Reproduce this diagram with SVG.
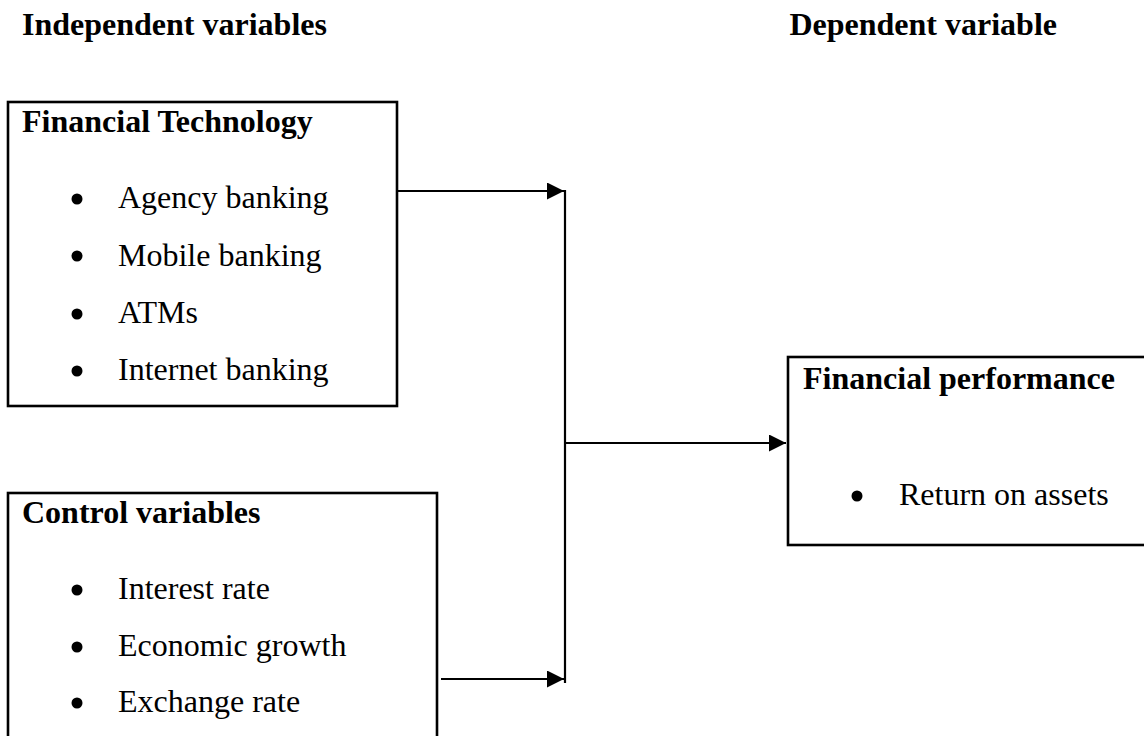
<svg xmlns="http://www.w3.org/2000/svg" width="1144" height="736" viewBox="0 0 1144 736">
<style>
.box{fill:#fff;stroke:#000;stroke-width:2.6}
.h{font-family:"Liberation Serif","Times New Roman",serif;font-weight:bold;font-size:32px;fill:#000}
.t{font-family:"Liberation Serif","Times New Roman",serif;font-size:32px;fill:#000}
.b{fill:#000}
.c{stroke:#000;stroke-width:2.2;fill:none}
</style>
<defs>
<marker id="ah" viewBox="0 0 10 10" refX="10" refY="5" markerWidth="17" markerHeight="17" markerUnits="userSpaceOnUse" orient="auto">
<path d="M0,0 L10,5 L0,10 z" fill="#000"/>
</marker>
</defs>
<rect width="1144" height="736" fill="#fff"/>
<text class="h" x="22" y="35">Independent variables</text>
<text class="h" x="1057" y="35" text-anchor="end">Dependent variable</text>
<g id="fintech">
<rect class="box" x="8" y="102" width="389" height="304"/>
<text class="h" x="22" y="132">Financial Technology</text>
<circle class="b" cx="77" cy="199" r="5.5"/><text class="t" x="118" y="208">Agency banking</text>
<circle class="b" cx="77" cy="256" r="5.5"/><text class="t" x="118" y="265.5">Mobile banking</text>
<circle class="b" cx="77" cy="314" r="5.5"/><text class="t" x="118" y="323">ATMs</text>
<circle class="b" cx="77" cy="371" r="5.5"/><text class="t" x="118" y="380">Internet banking</text>
</g>
<g id="control">
<rect class="box" x="8" y="493" width="429" height="260"/>
<text class="h" x="22" y="523">Control variables</text>
<circle class="b" cx="77" cy="590" r="5.5"/><text class="t" x="118" y="599">Interest rate</text>
<circle class="b" cx="77" cy="647" r="5.5"/><text class="t" x="118" y="656">Economic growth</text>
<circle class="b" cx="77" cy="703" r="5.5"/><text class="t" x="118" y="712">Exchange rate</text>
</g>
<g id="performance">
<rect class="box" x="788" y="357" width="370" height="188"/>
<text class="h" x="803" y="389">Financial performance</text>
<circle class="b" cx="857" cy="496" r="5.5"/><text class="t" x="899" y="505">Return on assets</text>
</g>
<g id="connectors">
<line class="c" x1="397" y1="191" x2="564" y2="191" marker-end="url(#ah)"/>
<line class="c" x1="441" y1="679" x2="564" y2="679" marker-end="url(#ah)"/>
<line class="c" x1="565" y1="190" x2="565" y2="683"/>
<line class="c" x1="565" y1="443" x2="786" y2="443" marker-end="url(#ah)"/>
</g>
</svg>
